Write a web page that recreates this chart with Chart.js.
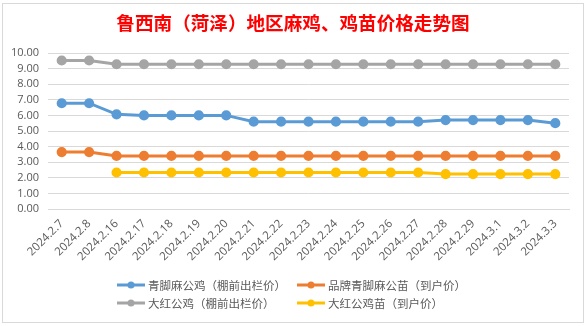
<!DOCTYPE html>
<html>
<head>
<meta charset="utf-8">
<script src="https://cdn.jsdelivr.net/npm/chart.js@4.4.1/dist/chart.umd.min.js"></script>
<style>
  html, body { margin: 0; padding: 0; background: #fff; }
  #wrap { width: 586px; height: 326px; position: relative; }
</style>
</head>
<body>
<div id="wrap"><canvas id="c" width="586" height="326"></canvas></div>
<script>
const categories = ["2024.2.7","2024.2.8","2024.2.16","2024.2.17","2024.2.18","2024.2.19","2024.2.20","2024.2.21","2024.2.22","2024.2.23","2024.2.24","2024.2.25","2024.2.26","2024.2.27","2024.2.28","2024.2.29","2024.3.1","2024.3.2","2024.3.3"];
const qingjiaoRooster = [6.78,6.78,6.07,6.0,6.0,6.0,6.0,5.6,5.6,5.6,5.6,5.6,5.6,5.6,5.7,5.7,5.7,5.7,5.5];
const brandQingjiaoChick = [3.65,3.65,3.4,3.4,3.4,3.4,3.4,3.4,3.4,3.4,3.4,3.4,3.4,3.4,3.4,3.4,3.4,3.4,3.4];
const dahongRooster = [9.52,9.52,9.28,9.28,9.28,9.28,9.28,9.28,9.28,9.28,9.28,9.28,9.28,9.28,9.28,9.28,9.28,9.28,9.28];
const dahongChick = [null,null,2.34,2.34,2.34,2.34,2.34,2.34,2.34,2.34,2.34,2.34,2.34,2.34,2.24,2.24,2.24,2.24,2.24];
const seriesNames = ["青脚麻公鸡（棚前出栏价）","品牌青脚麻公苗（到户价）","大红公鸡（棚前出栏价）","大红公鸡苗（到户价）"];
const yTicks = [0,1,2,3,4,5,6,7,8,9,10];
const titleText = "鲁西南（菏泽）地区麻鸡、鸡苗价格走势图";

const colors = ["#5B9BD5","#ED7D31","#A5A5A5","#FFC000"];
const seriesData = [qingjiaoRooster, brandQingjiaoChick, dahongRooster, dahongChick];
const CJK = "'Noto Sans CJK SC', 'Noto Sans', sans-serif";
const LAT = "'Open Sans', 'Noto Sans', 'Noto Sans CJK SC', sans-serif";

const decorPlugin = {
  id: 'excelDecor',
  afterDraw(chart) {
    const ctx = chart.ctx;
    ctx.save();
    // title
    ctx.fillStyle = '#FF0000';
    ctx.font = "bold 18.6px " + CJK;
    ctx.textAlign = 'center';
    ctx.textBaseline = 'middle';
    ctx.fillText(titleText, 293, 23);
    // legend
    const cols = [117, 297];
    const rows = [285, 303];
    chart.data.datasets.forEach((ds, i) => {
      const x = cols[i % 2];
      const y = rows[Math.floor(i / 2)];
      ctx.strokeStyle = ds.borderColor;
      ctx.lineWidth = 3;
      ctx.beginPath();
      ctx.moveTo(x, y);
      ctx.lineTo(x + 28, y);
      ctx.stroke();
      ctx.fillStyle = ds.borderColor;
      ctx.beginPath();
      ctx.arc(x + 14, y, 3.5, 0, Math.PI * 2);
      ctx.fill();
      ctx.fillStyle = '#595959';
      ctx.font = "11.5px " + CJK;
      ctx.textBaseline = 'middle';
      ctx.textAlign = 'left';
      ctx.fillText(ds.label, x + 31, y + 0.5);
    });
    // frame
    ctx.strokeStyle = '#D9D9D9';
    ctx.lineWidth = 1;
    ctx.strokeRect(2.5, 3.5, 581, 319);
    ctx.restore();
  }
};

new Chart(document.getElementById('c'), {
  type: 'line',
  data: {
    labels: categories,
    datasets: seriesData.map((d, i) => ({
      label: seriesNames[i],
      data: d,
      borderColor: colors[i],
      backgroundColor: colors[i],
      pointBackgroundColor: colors[i],
      pointBorderColor: colors[i],
      borderWidth: 3,
      pointRadius: 3.6,
      pointHoverRadius: 3.6,
      tension: 0,
      spanGaps: false
    }))
  },
  options: {
    responsive: false,
    animation: false,
    devicePixelRatio: 1,
    layout: { padding: { left: 0, right: 17, top: 53, bottom: 60 } },
    plugins: {
      legend: { display: false },
      tooltip: { enabled: false },
      title: { display: false }
    },
    scales: {
      x: {
        offset: true,
        grid: { display: false, drawTicks: false },
        border: { display: true, color: '#D9D9D9', width: 1 },
        ticks: {
          color: '#595959',
          font: { family: LAT, size: 11.5 },
          minRotation: 45,
          maxRotation: 45,
          autoSkip: false,
          padding: 8
        },
        afterFit(s) { s.height = 57; }
      },
      y: {
        min: 0,
        max: 10,
        afterBuildTicks(s) { s.ticks = yTicks.map(v => ({ value: v })); },
        grid: { color: '#D9D9D9', drawTicks: false, lineWidth: 1 },
        border: { display: false },
        ticks: {
          color: '#595959',
          font: { family: LAT, size: 11 },
          padding: 9,
          autoSkip: false,
          callback: v => Number(v).toFixed(2)
        },
        afterFit(s) { s.width = 48; }
      }
    }
  },
  plugins: [decorPlugin]
});
</script>
</body>
</html>
